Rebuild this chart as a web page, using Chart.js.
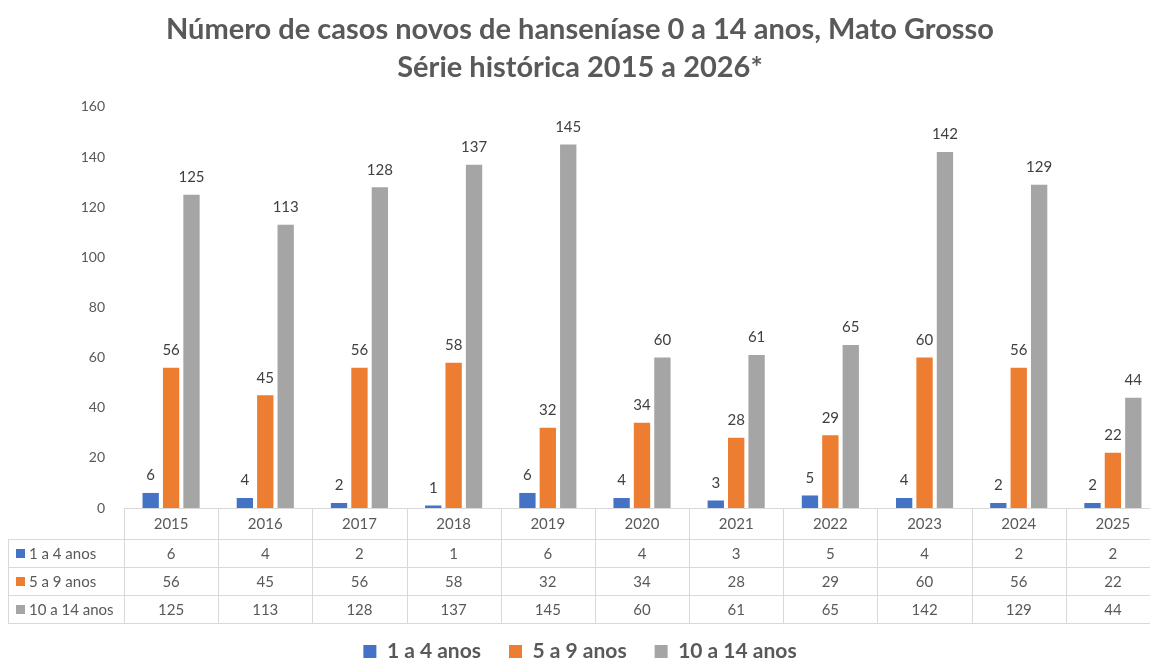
<!DOCTYPE html>
<html>
<head>
<meta charset="utf-8">
<script src="https://cdn.jsdelivr.net/npm/chart.js@4"></script>
<style>
  html, body { margin: 0; padding: 0; background: #fff; overflow: hidden; }
  #wrap { width: 1160px; height: 659px; }
</style>
</head>
<body>
<div id="wrap"><canvas id="myChart"></canvas></div>
<script>
// dados do gráfico
const anos = ['2015', '2016', '2017', '2018', '2019', '2020', '2021', '2022', '2023', '2024', '2025'];
const casos1a4 = [6, 4, 2, 1, 6, 4, 3, 5, 4, 2, 2];
const casos5a9 = [56, 45, 56, 58, 32, 34, 28, 29, 60, 56, 22];
const casos10a14 = [125, 113, 128, 137, 145, 60, 61, 65, 142, 129, 44];
const faixas = ['1 a 4 anos', '5 a 9 anos', '10 a 14 anos'];
const cores = ['#4472C4', '#ED7D31', '#A5A5A5'];
const yTicks = [0, 20, 40, 60, 80, 100, 120, 140, 160];

const FONTE = 'Lato, "Open Sans", sans-serif';
const CINZA = '#595959';

// rótulos de valor acima das barras
const rotulosPlugin = {
  id: 'rotulos',
  afterDatasetsDraw(chart) {
    const ctx = chart.ctx;
    ctx.save();
    ctx.font = '15px ' + FONTE;
    ctx.fillStyle = '#404040';
    ctx.textAlign = 'center';
    ctx.textBaseline = 'bottom';
    chart.data.datasets.forEach((ds, i) => {
      chart.getDatasetMeta(i).data.forEach((bar, j) => {
        ctx.fillText(ds.data[j], bar.x, bar.y - 10);
      });
    });
    ctx.restore();
  }
};

// tabela de dados abaixo do eixo
const tabelaPlugin = {
  id: 'tabela',
  afterDraw(chart) {
    const ctx = chart.ctx;
    const x = chart.scales.x;
    const area = chart.chartArea;
    const larg = (area.right - area.left) / anos.length;
    const topo = area.bottom;
    const linhas = [topo, topo + 31, topo + 59, topo + 87, topo + 115];
    const esq = 8;
    ctx.save();
    ctx.strokeStyle = '#D9D9D9';
    ctx.lineWidth = 1;
    ctx.beginPath();
    // linhas horizontais
    ctx.moveTo(area.left, linhas[0] + 0.5);
    ctx.lineTo(area.right, linhas[0] + 0.5);
    for (let r = 1; r < linhas.length; r++) {
      ctx.moveTo(esq, linhas[r] + 0.5);
      ctx.lineTo(area.right, linhas[r] + 0.5);
    }
    // linhas verticais
    ctx.moveTo(esq + 0.5, linhas[1]);
    ctx.lineTo(esq + 0.5, linhas[4]);
    anos.forEach((a, j) => {
      const xl = Math.round(x.getPixelForValue(j) - larg / 2) + 0.5;
      ctx.moveTo(xl, linhas[0]);
      ctx.lineTo(xl, linhas[4]);
    });
    ctx.stroke();

    ctx.font = '15px ' + FONTE;
    ctx.fillStyle = CINZA;
    ctx.textAlign = 'center';
    ctx.textBaseline = 'middle';
    anos.forEach((a, j) => {
      ctx.fillText(a, x.getPixelForValue(j), (linhas[0] + linhas[1]) / 2 + 1);
    });
    chart.data.datasets.forEach((ds, i) => {
      const yc = (linhas[i + 1] + linhas[i + 2]) / 2 + 1;
      ds.data.forEach((v, j) => {
        ctx.fillText(v, x.getPixelForValue(j), yc);
      });
      ctx.fillStyle = cores[i];
      ctx.fillRect(esq + 8, yc - 5, 9, 9);
      ctx.fillStyle = CINZA;
      ctx.textAlign = 'left';
      ctx.fillText(faixas[i], esq + 21, yc);
      ctx.textAlign = 'center';
    });
    ctx.restore();
  }
};

new Chart(document.getElementById('myChart').getContext('2d'), {
  type: 'bar',
  data: {
    labels: anos,
    datasets: [
      { label: faixas[0], data: casos1a4, backgroundColor: cores[0] },
      { label: faixas[1], data: casos5a9, backgroundColor: cores[1] },
      { label: faixas[2], data: casos10a14, backgroundColor: cores[2] }
    ]
  },
  options: {
    responsive: true,
    maintainAspectRatio: false,
    animation: false,
    datasets: {
      bar: { categoryPercentage: 0.65, barPercentage: 0.8 }
    },
    layout: { padding: { left: 0, right: 0, top: 0, bottom: 0 } },
    scales: {
      x: {
        grid: { display: false },
        border: { display: false },
        ticks: { display: false },
        afterFit(scale) { scale.height = 105; }
      },
      y: {
        min: 0,
        max: 160,
        afterBuildTicks(scale) { scale.ticks = yTicks.map(v => ({ value: v })); },
        grid: { display: false, drawTicks: false },
        border: { display: false },
        ticks: { color: CINZA, font: { family: FONTE, size: 14 }, padding: 19 },
        afterFit(scale) { scale.width = 124; }
      }
    },
    plugins: {
      title: {
        display: true,
        text: ['Número de casos novos de hanseníase 0 a 14 anos, Mato Grosso', 'Série histórica 2015 a 2026*'],
        color: CINZA,
        font: { family: FONTE, size: 29, weight: 'bold', lineHeight: 1.31 },
        padding: { top: 11, bottom: 20 }
      },
      legend: {
        position: 'bottom',
        maxHeight: 46,
        labels: {
          color: CINZA,
          font: { family: FONTE, size: 21, weight: 'bold' },
          boxWidth: 13,
          boxHeight: 13,
          padding: 28
        }
      },
      tooltip: { enabled: false }
    }
  },
  plugins: [rotulosPlugin, tabelaPlugin]
});
</script>
</body>
</html>
